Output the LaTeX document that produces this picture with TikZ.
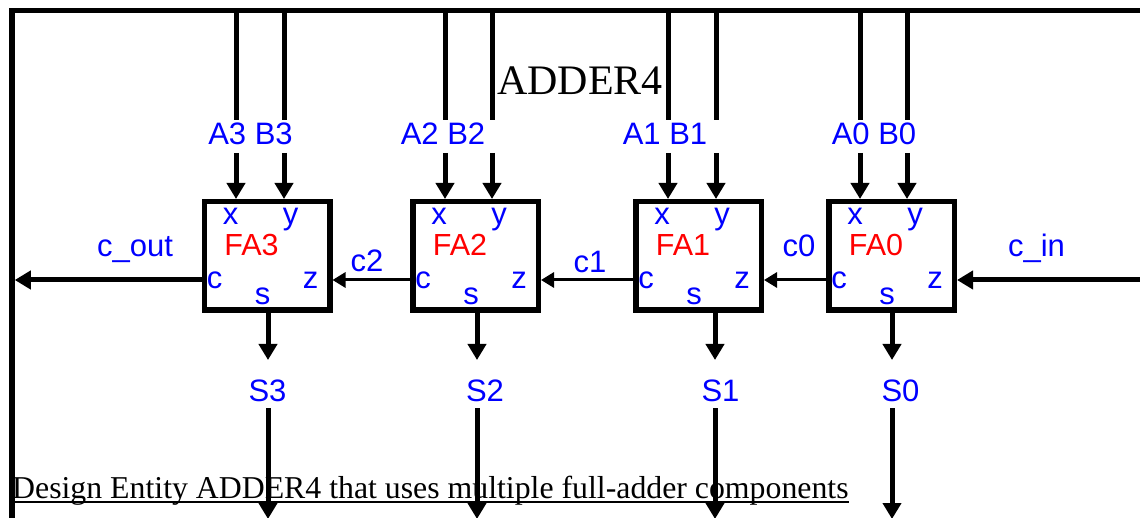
\documentclass[tikz,border=0pt]{standalone}
\usepackage{fontspec}
\setmainfont{Liberation Serif}
\setsansfont{Liberation Sans}
\usetikzlibrary{arrows.meta,calc}
\definecolor{lblblue}{RGB}{0,0,255}
\definecolor{lblred}{RGB}{255,0,0}
\tikzset{
  wire/.style={line width=5pt},
  thickarrow/.style={line width=5pt,-{Triangle[length=16pt,width=18pt]}},
  thinarrow/.style={line width=3pt,-{Triangle[length=13pt,width=15pt]}},
  fabox/.style={draw,line width=5.5pt,minimum width=125.5pt,minimum height=108.5pt,inner sep=0pt},
  sig/.style={font=\sffamily\fontsize{31}{37}\selectfont,text=lblblue,inner sep=0pt,anchor=base},
  falabel/.style={font=\sffamily\fontsize{30.5}{36}\selectfont,text=lblred,inner sep=0pt,anchor=base},
}
\begin{document}
\begin{tikzpicture}[x=1pt,y=-1pt]
\useasboundingbox (0,0) rectangle (1140,518);
\clip (0,0) rectangle (1140,518);
% caption (drawn first, wires pass over it)
\node[font=\fontsize{31.8}{38}\selectfont,anchor=base west,inner sep=0pt] (caption) at (12,498) {Design Entity ADDER4 that uses multiple full-adder components};
\draw[line width=2.3pt] ([yshift=-4pt]caption.base west) -- ([yshift=-4pt]caption.base east);
% frame
\coordinate (frame-bl) at (12,522);
\coordinate (frame-tl) at (12,10.5);
\coordinate (frame-tr) at (1142,10.5);
\draw[line width=5.5pt] (frame-bl) -- (frame-tl) -- (frame-tr);
% title
\node[font=\fontsize{42}{50}\selectfont,anchor=base west,inner sep=0pt] (title) at (497,95) {ADDER4};
% full adders
\foreach \n/\cx in {3/267, 2/475.5, 1/698.5, 0/891.5} {
  \node[fabox] (fa\n) at (\cx,256) {};
}
\foreach \n in {3,2,1,0} {
  \node[sig] (fa\n-x) at ($(fa\n.center)+(-36.5,-31)$) {x};
  \node[sig] (fa\n-y) at ($(fa\n.center)+(23.5,-31)$) {y};
  \node[falabel] (fa\n-name) at ($(fa\n.center)+(-15.5,0)$) {FA\n};
  \node[sig] (fa\n-c) at ($(fa\n.center)+(-52.5,33)$) {c};
  \node[sig] (fa\n-z) at ($(fa\n.center)+(43.5,33)$) {z};
  \node[sig] (fa\n-s) at ($(fa\n.center)+(-4.5,49)$) {s};
}
% inputs
\foreach \n/\ax/\bx/\lx in {3/236/284/250.5, 2/445/492/443, 1/668/716/665, 0/860/907/874} {
  \coordinate (a\n-top) at (\ax,10.5);
  \coordinate (a\n-gap) at (\ax,120);
  \coordinate (a\n-low) at (\ax,153);
  \coordinate (b\n-top) at (\bx,10.5);
  \coordinate (b\n-gap) at (\bx,120);
  \coordinate (b\n-low) at (\bx,153);
  \node[sig] (in\n) at (\lx,145) {A\n{} B\n};
  \draw[wire] (a\n-top) -- (a\n-gap);
  \draw[wire] (b\n-top) -- (b\n-gap);
  \draw[thickarrow] (a\n-low) -- (a\n-low |- fa\n.north);
  \draw[thickarrow] (b\n-low) -- (b\n-low |- fa\n.north);
}
% outputs
\foreach \n/\sx/\lx in {3/268/267.5, 2/477/485, 1/715/720.5, 0/892/900.5} {
  \coordinate (s\n-out) at (\sx,360);
  \coordinate (s\n-low) at (\sx,408);
  \coordinate (s\n-end) at (\sx,519);
  \draw[thickarrow] (fa\n.south -| s\n-out) -- (s\n-out);
  \node[sig] (out\n) at (\lx,401) {S\n};
  \draw[thickarrow] (s\n-low) -- (s\n-end);
}
% carries
\coordinate (cin-src) at (1142,280);
\coordinate (cout-end) at (14.75,280);
\draw[thickarrow] (cin-src) -- (cin-src -| fa0.east);
\draw[thinarrow] (fa0.west |- cin-src) -- (fa1.east |- cin-src);
\draw[thinarrow] (fa1.west |- cin-src) -- (fa2.east |- cin-src);
\draw[thinarrow] (fa2.west |- cin-src) -- (fa3.east |- cin-src);
\draw[thickarrow] (fa3.west |- cin-src) -- (cout-end);
\node[sig] (cout) at (135,257) {c\_out};
\node[sig] (c2) at (367,272) {c2};
\node[sig] (c1) at (590,273) {c1};
\node[sig] (c0) at (799,257) {c0};
\node[sig] (cin) at (1036.5,257) {c\_in};
\end{tikzpicture}
\end{document}
